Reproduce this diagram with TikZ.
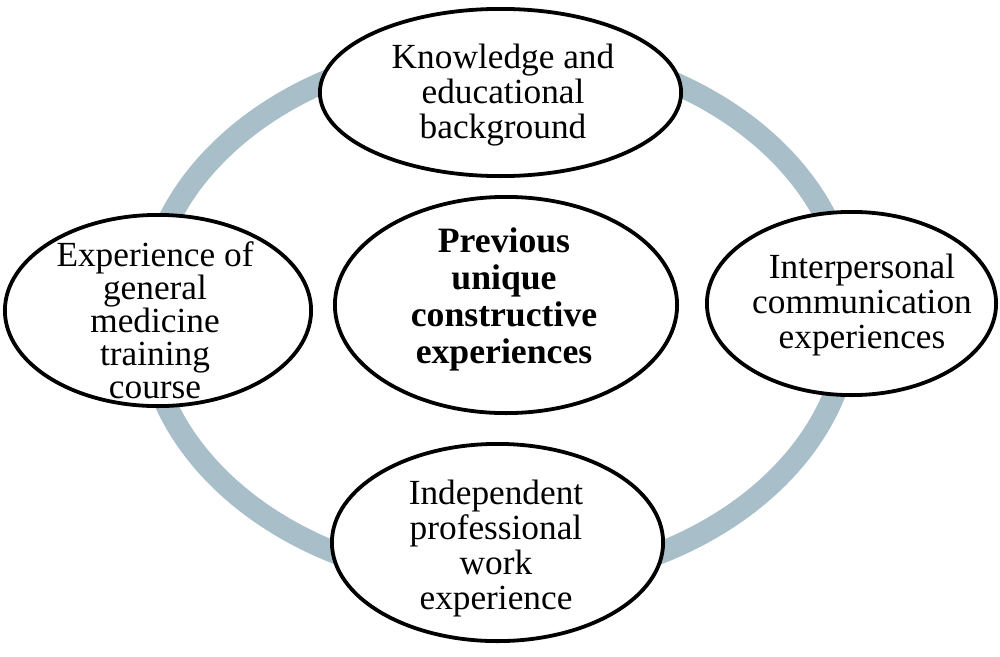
\documentclass[tikz,border=0pt]{standalone}
\usepackage{fontspec}
\setmainfont{Liberation Serif}
\usetikzlibrary{shapes.geometric}
\definecolor{ringc}{RGB}{168,190,200}
\begin{document}
\begin{tikzpicture}[x=1pt,y=-1pt,
  bubble/.style={ellipse, draw=black, line width=3.8pt, fill=white, inner sep=0pt},
  txt/.style={align=center, inner sep=0pt, font=\fontsize{35.3}{35}\selectfont},
  boldtxt/.style={align=center, inner sep=0pt, font=\fontsize{35.7}{37}\selectfont\bfseries}]
\useasboundingbox (0,0) rectangle (1000,656);
\draw[ringc, line width=22pt] (498,315) ellipse [x radius=352, y radius=268];
\node[bubble, minimum width=361.2pt, minimum height=167.2pt] (top) at (500.5,92.5) {};
\node[bubble, minimum width=342.2pt, minimum height=216.2pt] (core) at (506,305) {};
\node[bubble, minimum width=306.2pt, minimum height=191.2pt] (left) at (158,310.5) {};
\node[bubble, minimum width=289.2pt, minimum height=183.2pt] (right) at (851.5,303.5) {};
\node[bubble, minimum width=331.2pt, minimum height=197.2pt] (bottom) at (497.5,542.5) {};
\node[txt] (toptxt) at (503,95.4) {Knowledge and\\educational\\background};
\node[txt, font=\fontsize{35.3}{33}\selectfont] (lefttxt) at (155,320) {Experience of\\general\\medicine\\training\\course};
\node[txt] (righttxt) at (862,305) {Interpersonal\\communication\\experiences};
\node[boldtxt] (coretxt) at (504,299.5) {Previous\\unique\\constructive\\experiences};
\node[txt] (bottomtxt) at (496,548.5) {Independent\\professional\\work\\experience};
\end{tikzpicture}
\end{document}
